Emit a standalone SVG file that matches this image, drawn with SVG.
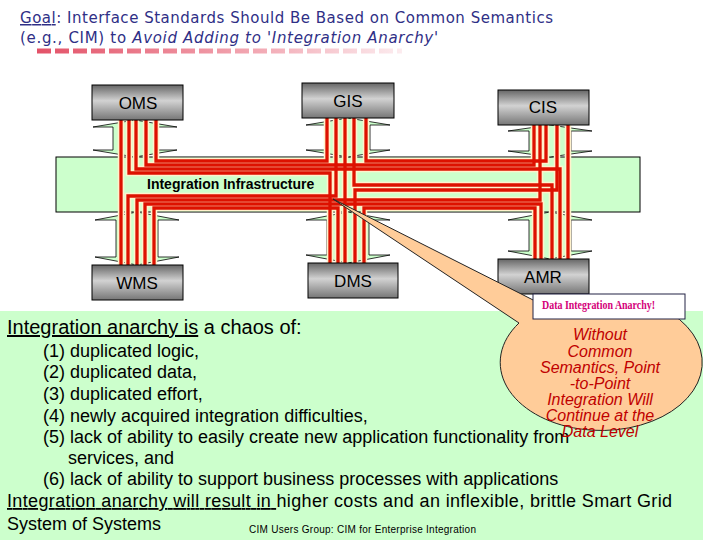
<svg xmlns="http://www.w3.org/2000/svg" xmlns:xlink="http://www.w3.org/1999/xlink" width="720" height="540" viewBox="0 0 720 540">
<defs>
<linearGradient id="boxGrad" x1="0" y1="0" x2="0" y2="1">
<stop offset="0" stop-color="#666666"/>
<stop offset="0.45" stop-color="#d2d2d2"/>
<stop offset="1" stop-color="#767676"/>
</linearGradient>
<linearGradient id="dashGrad" gradientUnits="userSpaceOnUse" x1="37" y1="0" x2="402" y2="0">
<stop offset="0" stop-color="#e35268"/>
<stop offset="0.6" stop-color="#f2a8b3"/>
<stop offset="1" stop-color="#fcecef"/>
</linearGradient>
<path id="p1" d="M121,120 V265"/>
<path id="p2" d="M156,120 V161 H327 V118"/>
<path id="p3" d="M146,120 V165 H534 V125"/>
<path id="p4" d="M136,120 V169 H560 V259"/>
<path id="p5" d="M129,120 V173 H330 V263"/>
<path id="p6" d="M336,118 V196 H128 V265"/>
<path id="p7" d="M345,118 V263"/>
<path id="p8" d="M354,118 V185 H552 V259"/>
<path id="p9" d="M366,118 V161 H546 V125"/>
<path id="p10" d="M568,125 V259"/>
<path id="p11" d="M557,125 V190 H355 V263"/>
<path id="p12" d="M540,125 V200 H137 V265"/>
<path id="p13" d="M541,259 V204 H145 V265"/>
<path id="p14" d="M154,265 V208 H338 V263"/>
<path id="p15" d="M364,263 V208 H535 V259"/>
</defs>
<style>
.title{font-family:"DejaVu Sans",Verdana,sans-serif;font-size:15px;fill:#2f2f86}
.box{fill:url(#boxGrad);stroke:#000;stroke-width:1}
.lbl{font-family:"Liberation Sans",Arial,sans-serif;font-size:17px;fill:#000;text-anchor:middle}
.green{fill:#ccffcc}
.arrow{fill:#ccffcc;stroke:#000;stroke-width:0.8}
.halo{fill:none;stroke:#fff2cc;stroke-width:6.5}
.wire{fill:none;stroke:#dd1100;stroke-width:3.3}
.body{font-family:"Liberation Sans",Arial,sans-serif;fill:#000}
.bub{font-family:"Liberation Sans",Arial,sans-serif;font-size:16px;font-style:italic;fill:#c00000;text-anchor:middle}
</style>
<rect width="720" height="540" fill="#ffffff"/>

<g id="title">
<text class="title" x="20" y="23" textLength="533"><tspan text-decoration="underline">Goal</tspan>: Interface Standards Should Be Based on Common Semantics</text>
<text class="title" x="20" y="43" textLength="418">(e.g., CIM) to <tspan font-style="italic">Avoid Adding to 'Integration Anarchy'</tspan></text>
<line x1="37" y1="51" x2="402" y2="51" stroke="url(#dashGrad)" stroke-width="5" stroke-dasharray="14 4"/>
</g>

<g id="infrastructure">
<rect class="green" x="56" y="157" width="584" height="55" stroke="#000" stroke-width="1"/>
</g>

<g id="links">
<polygon class="arrow" points="135,120 177,127 157,127 157,150 177,150 135,157 93,150 113,150 113,127 93,127"/>
<polygon class="arrow" points="348,118 390,125 370,125 370,150 390,150 348,157 306,150 326,150 326,125 306,125"/>
<polygon class="arrow" points="550,125 592,131 571,131 571,151 592,151 550,157 508,151 529,151 529,131 508,131"/>
<polygon class="arrow" points="137,212 179,220 158,220 158,257 179,257 137,265 95,257 116,257 116,220 95,220"/>
<polygon class="arrow" points="348,212 390,220 369,220 369,255 390,255 348,263 306,255 327,255 327,220 306,220"/>
<polygon class="arrow" points="550,212 592,220 571,220 571,251 592,251 550,259 508,251 529,251 529,220 508,220"/>
</g>

<g id="connectors">
<use xlink:href="#p1" class="halo"/><use xlink:href="#p2" class="halo"/><use xlink:href="#p3" class="halo"/>
<use xlink:href="#p4" class="halo"/><use xlink:href="#p5" class="halo"/><use xlink:href="#p6" class="halo"/>
<use xlink:href="#p7" class="halo"/><use xlink:href="#p8" class="halo"/><use xlink:href="#p9" class="halo"/>
<use xlink:href="#p10" class="halo"/><use xlink:href="#p11" class="halo"/><use xlink:href="#p12" class="halo"/>
<use xlink:href="#p13" class="halo"/><use xlink:href="#p14" class="halo"/><use xlink:href="#p15" class="halo"/>
<use xlink:href="#p1" class="wire"/><use xlink:href="#p2" class="wire"/><use xlink:href="#p3" class="wire"/>
<use xlink:href="#p4" class="wire"/><use xlink:href="#p5" class="wire"/><use xlink:href="#p6" class="wire"/>
<use xlink:href="#p7" class="wire"/><use xlink:href="#p8" class="wire"/><use xlink:href="#p9" class="wire"/>
<use xlink:href="#p10" class="wire"/><use xlink:href="#p11" class="wire"/><use xlink:href="#p12" class="wire"/>
<use xlink:href="#p13" class="wire"/><use xlink:href="#p14" class="wire"/><use xlink:href="#p15" class="wire"/>
</g>

<text class="body" x="147" y="189" font-size="14" font-weight="bold">Integration Infrastructure</text>

<g id="oms"><rect class="box" x="92" y="85" width="91" height="35"/><text class="lbl" x="138" y="109">OMS</text></g>
<g id="gis"><rect class="box" x="302" y="83" width="92" height="35"/><text class="lbl" x="348" y="107">GIS</text></g>
<g id="cis"><rect class="box" x="498" y="90" width="91" height="35"/><text class="lbl" x="543" y="113">CIS</text></g>
<g id="wms"><rect class="box" x="92" y="265" width="91" height="35"/><text class="lbl" x="137" y="289">WMS</text></g>
<g id="dms"><rect class="box" x="308" y="263" width="90" height="35"/><text class="lbl" x="353" y="287">DMS</text></g>
<g id="amr"><rect class="box" x="498" y="259" width="91" height="35"/><text class="lbl" x="543" y="283">AMR</text></g>

<g id="notes">
<rect class="green" x="0" y="311" width="703" height="229"/>
<text class="body" x="7" y="334" font-size="20"><tspan text-decoration="underline">Integration anarchy is</tspan> a chaos of:</text>
<text class="body" x="43" y="357" font-size="18">(1) duplicated logic,</text>
<text class="body" x="43" y="378" font-size="18">(2) duplicated data,</text>
<text class="body" x="43" y="400" font-size="18">(3) duplicated effort,</text>
<text class="body" x="43" y="422" font-size="18">(4) newly acquired integration difficulties,</text>
<text class="body" x="43" y="443" font-size="18">(5) lack of ability to easily create new application functionality from</text>
<text class="body" x="68" y="464" font-size="18">services, and</text>
<text class="body" x="43" y="485" font-size="18">(6) lack of ability to support business processes with applications</text>
<text class="body" x="7" y="507" font-size="18" textLength="665"><tspan text-decoration="underline">Integration anarchy will result in </tspan>higher costs and an inflexible, brittle Smart Grid</text>
<text class="body" x="7" y="530" font-size="18">System of Systems</text>
<text class="body" x="249" y="533" font-size="10" textLength="227">CIM Users Group: CIM for Enterprise Integration</text>
</g>

<g id="callout">
<path d="M333,199 L545,306 A101 68 0 1 1 519,323 Z" fill="#ffcc99" stroke="#222" stroke-width="1"/>
<text class="bub" x="600" y="340">Without</text>
<text class="bub" x="600" y="356.5">Common</text>
<text class="bub" x="600" y="373">Semantics, Point</text>
<text class="bub" x="600" y="389">-to-Point</text>
<text class="bub" x="600" y="405">Integration Will</text>
<text class="bub" x="600" y="421">Continue at the</text>
<text class="bub" x="600" y="437">Data Level</text>
</g>

<g id="anarchy-label">
<rect x="533" y="294" width="152" height="25" fill="#ffffff" stroke="#222244" stroke-width="1"/>
<text x="542" y="309" font-family="'Liberation Serif',serif" font-size="13" font-weight="bold" fill="#d4007a" textLength="113" lengthAdjust="spacingAndGlyphs">Data Integration Anarchy!</text>
</g>
</svg>
